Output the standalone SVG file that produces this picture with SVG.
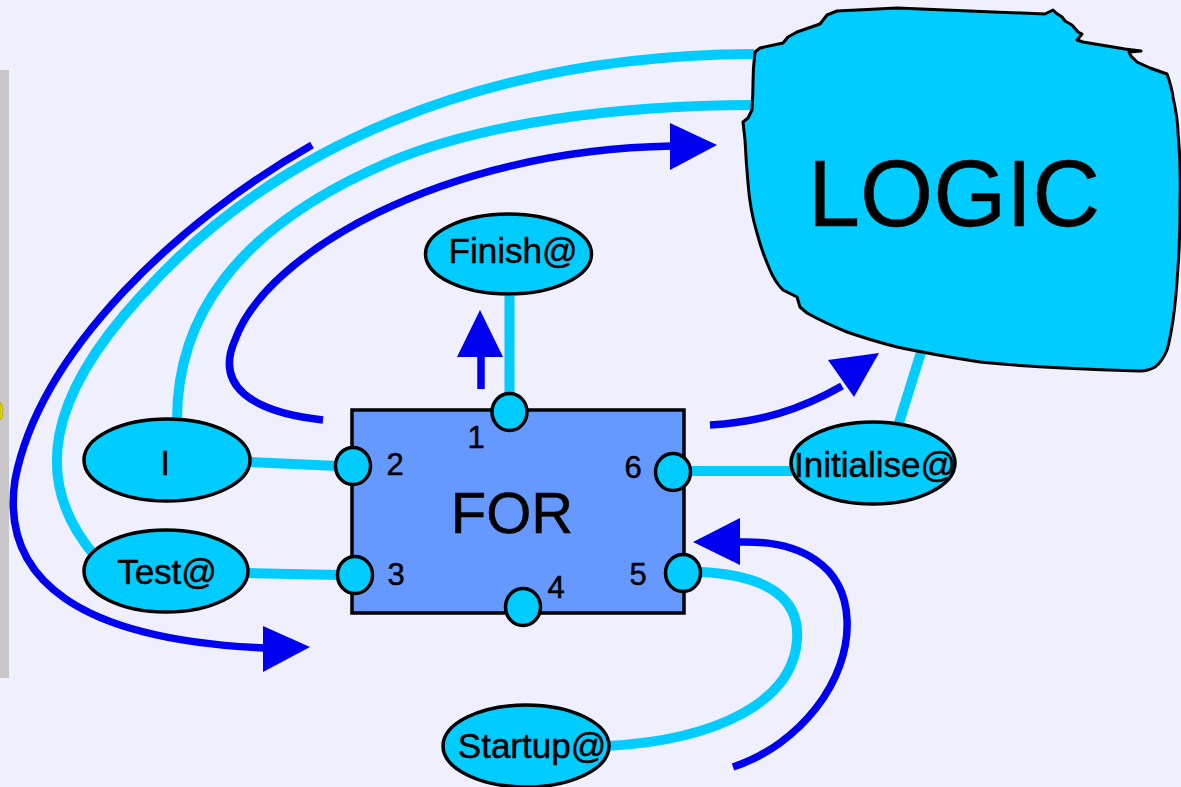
<svg xmlns="http://www.w3.org/2000/svg" width="1181" height="787" viewBox="0 0 1181 787">
  <defs>
    <style>
      .bg { fill: #EFEFFD; }
      .wire { fill: none; stroke: #00CCFF; stroke-width: 10; stroke-linecap: butt; }
      .flow { fill: none; stroke: #0000F0; stroke-width: 7.5; stroke-linecap: butt; }
      .head { fill: #0000F0; stroke: none; }
      .term { fill: #00CCFF; stroke: #000; stroke-width: 3.5; }
      .port { fill: #00CCFF; stroke: #000; stroke-width: 3.5; }
      .box { fill: #6699FF; stroke: #000; stroke-width: 3.5; }
      .blob { fill: #00CCFF; stroke: #000; stroke-width: 3; stroke-linejoin: round; }
      text { font-family: "Liberation Sans", Arial, Helvetica, sans-serif; fill: #000; stroke: #000; stroke-width: 0.5; text-anchor: middle; }
      .lbl { font-size: 35px; }
      .num { font-size: 31px; }
    </style>
  </defs>

  <rect class="bg" x="0" y="0" width="1181" height="787"/>

  <!-- side panel edge and its clipped yellow badge -->
  <rect x="0" y="70" width="9" height="608" fill="#C8C6C8"/>
  <polygon points="0,402 2,405 3,409 2,413 3,417 0,420" fill="#E6E200" stroke="#A8A000" stroke-width="0.8"/>

  <!-- connectors -->
  <g id="connectors">
    <!-- Test@ to LOGIC -->
    <path class="wire" d="M95,556 C30,480 50,395 140,297 C270,150 480,55 754,54"/>
    <!-- I to LOGIC -->
    <path class="wire" d="M177,420 C177,320 232,230 387,163 C480,123 620,105 753,105"/>
    <!-- I to port 2 -->
    <line class="wire" x1="250" y1="462" x2="338" y2="466"/>
    <!-- Test@ to port 3 -->
    <line class="wire" x1="247" y1="573" x2="340" y2="575"/>
    <!-- port 1 to Finish@ -->
    <line class="wire" x1="509.5" y1="296" x2="509.5" y2="396"/>
    <!-- port 6 to Initialise@ -->
    <line class="wire" x1="690" y1="471" x2="792" y2="471"/>
    <!-- Initialise@ to LOGIC -->
    <line class="wire" x1="898" y1="426" x2="922" y2="349"/>
    <!-- port 5 to Startup@ -->
    <path class="wire" d="M700,572 C770,575 800,600 797,640 C793,700 720,740 607,746"/>

    <!-- flow arrows -->
    <path class="flow" d="M312,145 C180,220 40,350 15,480 C0,580 80,640 265,648"/>
    <polygon class="head" points="263,626 310,647 263,672"/>

    <path class="flow" d="M323,420 C250,412 215,385 235,340 C265,255 440,150 672,146"/>
    <polygon class="head" points="670,123 717,145 670,170"/>

    <line class="flow" x1="481" y1="389" x2="481" y2="354"/>
    <polygon class="head" points="457,357 503,357 480,310"/>

    <path class="flow" d="M710,425 C760,422 800,410 842,386"/>
    <polygon class="head" points="828,360 879,353 854,397"/>

    <path class="flow" d="M733,767 C800,745 850,680 847,620 C845,565 800,540 738,542"/>
    <polygon class="head" points="740,518 740,565 693,542"/>
  </g>

  <!-- LOGIC cloud -->
  <g id="logic">
    <path class="blob" d="M755,52 L760,48 L783,43 L788,37 L797,32 L820,24 L827,15 L837,11 L897,8 L1045,14 L1053,10 L1056,13 L1062,17 L1065,21 L1072,25 L1078,32 L1082,34 L1077,40 L1083,42 L1125,49 L1141,51 L1129,52 L1131,56 L1137,62 L1150,68 L1167,74 Q1172,88 1173,97 Q1178,120 1178,133 Q1181,165 1180,200 Q1180,240 1178,267 Q1176,300 1173,320 Q1170,340 1167,350 Q1162,362 1155,367 Q1148,371 1140,371 Q1100,370 1063,368 Q1020,366 980,362 Q935,355 897,347 Q870,340 847,332 Q825,323 807,313 L800,307 L797,297 L783,290 Q775,282 770,270 Q762,252 757,233 Q750,210 748,183 Q746,160 745,140 L743,122 L748,118 L752,110 Q753,95 753,83 Q753,68 755,52 Z"/>
    <text x="954" y="226" style="font-size:94px">LOGIC</text>
  </g>

  <!-- FOR block with its six ports -->
  <g id="for-block">
    <rect class="box" x="352" y="410" width="332" height="203"/>
    <text x="512" y="533" style="font-size:58px">FOR</text>
  </g>
  <g id="port-1">
    <ellipse class="port" cx="509.5" cy="412" rx="17.5" ry="18.5"/>
    <text class="num" x="476" y="448">1</text>
  </g>
  <g id="port-2">
    <ellipse class="port" cx="353" cy="466" rx="17.5" ry="18.5"/>
    <text class="num" x="395" y="475">2</text>
  </g>
  <g id="port-3">
    <ellipse class="port" cx="355" cy="575" rx="17.5" ry="18.5"/>
    <text class="num" x="396" y="585">3</text>
  </g>
  <g id="port-4">
    <ellipse class="port" cx="523" cy="607" rx="17.5" ry="18.5"/>
    <text class="num" x="556" y="598">4</text>
  </g>
  <g id="port-5">
    <ellipse class="port" cx="683" cy="573" rx="17.5" ry="18.5"/>
    <text class="num" x="638" y="585">5</text>
  </g>
  <g id="port-6">
    <ellipse class="port" cx="673" cy="472" rx="17.5" ry="18.5"/>
    <text class="num" x="633" y="478">6</text>
  </g>

  <!-- terminals -->
  <g id="finish">
    <ellipse class="term" cx="508.5" cy="254" rx="83" ry="40"/>
    <text class="lbl" x="513" y="263">Finish@</text>
  </g>
  <g id="i">
    <ellipse class="term" cx="167" cy="460" rx="83" ry="41"/>
    <text class="lbl" x="165" y="475">I</text>
  </g>
  <g id="test">
    <ellipse class="term" cx="166" cy="571" rx="82" ry="41"/>
    <text class="lbl" x="167" y="584">Test@</text>
  </g>
  <g id="initialise">
    <ellipse class="term" cx="873" cy="463" rx="82" ry="41"/>
    <text class="lbl" x="875" y="477">Initialise@</text>
  </g>
  <g id="startup">
    <ellipse class="term" cx="526" cy="746" rx="83" ry="41"/>
    <text class="lbl" x="532" y="758">Startup@</text>
  </g>
</svg>
